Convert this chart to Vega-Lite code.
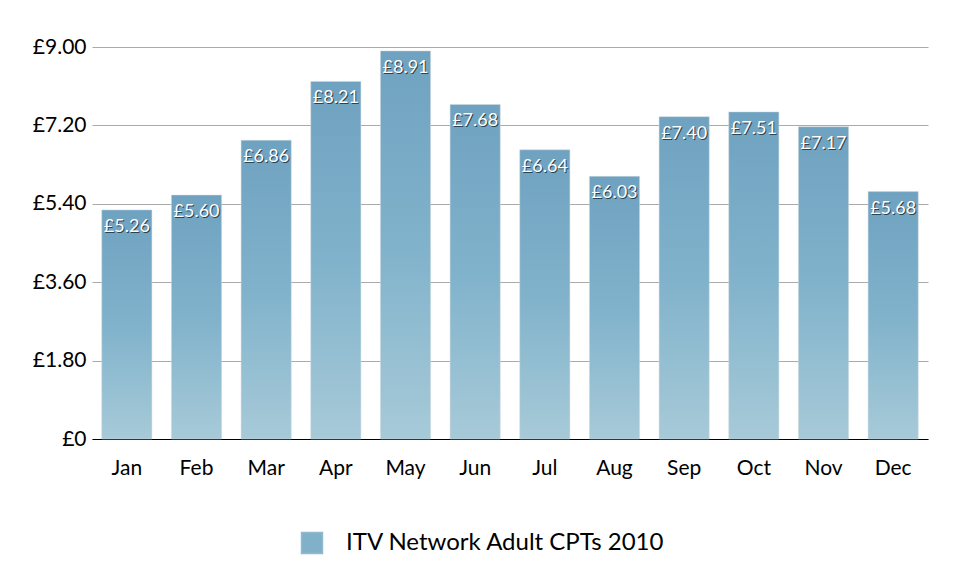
{
  "$schema": "https://vega.github.io/schema/vega-lite/v6.json",
  "width": 836,
  "height": 392,
  "autosize": {"type": "none"},
  "padding": {"left": 92, "top": 47, "right": 36, "bottom": 133},
  "background": "white",
  "config": {
    "font": "Lato",
    "view": {"stroke": null},
    "locale": {
      "number": {
        "decimal": ".",
        "thousands": ",",
        "grouping": [3],
        "currency": ["£", ""]
      }
    }
  },
  "data": {
    "values": [
      {"month": "Jan", "cpt": 5.26, "series": "ITV Network Adult CPTs 2010"},
      {"month": "Feb", "cpt": 5.60, "series": "ITV Network Adult CPTs 2010"},
      {"month": "Mar", "cpt": 6.86, "series": "ITV Network Adult CPTs 2010"},
      {"month": "Apr", "cpt": 8.21, "series": "ITV Network Adult CPTs 2010"},
      {"month": "May", "cpt": 8.91, "series": "ITV Network Adult CPTs 2010"},
      {"month": "Jun", "cpt": 7.68, "series": "ITV Network Adult CPTs 2010"},
      {"month": "Jul", "cpt": 6.64, "series": "ITV Network Adult CPTs 2010"},
      {"month": "Aug", "cpt": 6.03, "series": "ITV Network Adult CPTs 2010"},
      {"month": "Sep", "cpt": 7.40, "series": "ITV Network Adult CPTs 2010"},
      {"month": "Oct", "cpt": 7.51, "series": "ITV Network Adult CPTs 2010"},
      {"month": "Nov", "cpt": 7.17, "series": "ITV Network Adult CPTs 2010"},
      {"month": "Dec", "cpt": 5.68, "series": "ITV Network Adult CPTs 2010"}
    ]
  },
  "encoding": {
    "x": {
      "field": "month",
      "type": "ordinal",
      "sort": null,
      "title": null,
      "scale": {"paddingInner": 0.28, "paddingOuter": 0.14},
      "axis": {
        "labelAngle": 0,
        "labelFontSize": 21,
        "labelColor": "black",
        "labelPadding": 18,
        "ticks": false,
        "domainColor": "black",
        "domainWidth": 1.2,
        "grid": false
      }
    },
    "y": {
      "field": "cpt",
      "type": "quantitative",
      "title": null,
      "scale": {"domain": [0, 9], "nice": false},
      "axis": {
        "values": [0, 1.8, 3.6, 5.4, 7.2, 9],
        "labelExpr": "datum.value == 0 ? '£0' : '£' + format(datum.value, '.2f')",
        "labelFontSize": 21,
        "labelColor": "black",
        "labelPadding": 6,
        "ticks": false,
        "domain": false,
        "gridColor": "#aaaaaa",
        "gridWidth": 1
      }
    }
  },
  "layer": [
    {
      "mark": {
        "type": "bar",
        "fill": {
          "gradient": "linear",
          "x1": 0, "y1": 0, "x2": 0, "y2": 1,
          "stops": [
            {"offset": 0, "color": "#6fa2c0"},
            {"offset": 0.5, "color": "#80b2cb"},
            {"offset": 1, "color": "#a7cad8"}
          ]
        },
        "stroke": "#cfd8dc",
        "strokeWidth": 0.5
      }
    },
    {
      "mark": {"type": "point", "shape": "square", "filled": true, "opacity": 0, "size": 1},
      "encoding": {
        "color": {
          "datum": "ITV Network Adult CPTs 2010",
          "scale": {"range": ["#80b1c9"]},
          "legend": {
            "title": null,
            "orient": "none",
            "legendX": 208,
            "legendY": 484,
            "symbolType": "square",
            "symbolSize": 440,
            "labelFontSize": 24,
            "labelLimit": 500,
            "labelColor": "black",
            "labelOffset": 22,
            "encode": {
              "symbols": {
                "update": {
                  "opacity": {"value": 1},
                  "fillOpacity": {"value": 1},
                  "fill": {"value": "#80b1c9"},
                  "stroke": {"value": "#8fbad0"}
                }
              }
            }
          }
        }
      }
    },
    {
      "mark": {
        "type": "text",
        "baseline": "top",
        "fontSize": 18,
        "dy": 9,
        "dx": 1,
        "color": "#1b2a33",
        "opacity": 0.8
      },
      "encoding": {
        "text": {"field": "cpt", "type": "quantitative", "format": "$.2f"}
      }
    },
    {
      "mark": {
        "type": "text",
        "baseline": "top",
        "fontSize": 18,
        "dy": 8,
        "color": "white"
      },
      "encoding": {
        "text": {"field": "cpt", "type": "quantitative", "format": "$.2f"}
      }
    }
  ]
}
